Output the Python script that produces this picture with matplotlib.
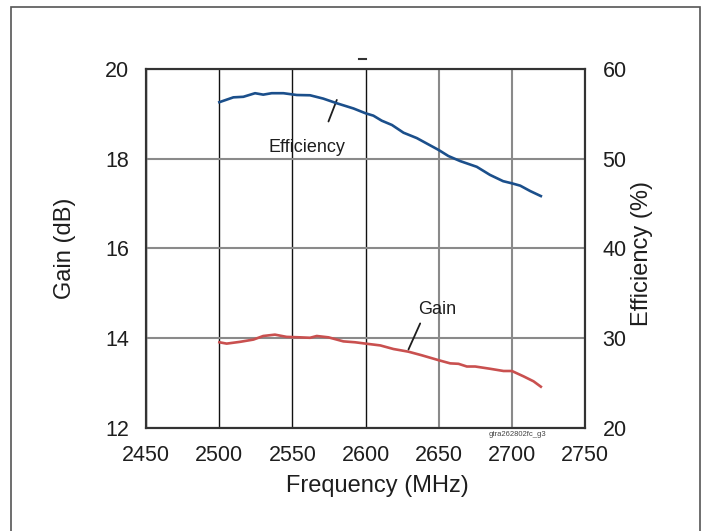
import matplotlib
matplotlib.use('Agg')
import matplotlib.pyplot as plt
from matplotlib.patches import Rectangle
from matplotlib.lines import Line2D

####################################
# Data
####################################

eff_freq = [2500, 2509.6, 2516.4, 2524.4, 2530, 2535.8, 2543.8, 2552.9, 2562, 2571,
            2580.3, 2591.7, 2600, 2605.3, 2611, 2618, 2625.9, 2635, 2644, 2650,
            2656.6, 2664.6, 2676, 2685, 2694, 2700, 2705.7, 2712.5, 2719.8]
eff_pct = [56.3, 56.84, 56.9, 57.3, 57.14, 57.3, 57.3, 57.1, 57.07, 56.7,
           56.18, 55.6, 55.06, 54.8, 54.24, 53.76, 52.9, 52.3, 51.5, 50.97,
           50.3, 49.74, 49.1, 48.2, 47.5, 47.26, 47.0, 46.4, 45.84]

gain_freq = [2500, 2505, 2514.2, 2523.3, 2530, 2538, 2546, 2555.2, 2562, 2566.6,
             2574.6, 2584.8, 2592.8, 2600, 2610, 2619, 2629.3, 2638.4, 2650, 2657.8,
             2663.5, 2669.2, 2674.9, 2685, 2694.3, 2700, 2708, 2714.8, 2719.8]
gain_db = [13.91, 13.88, 13.92, 13.97, 14.05, 14.08, 14.03, 14.02, 14.01, 14.05,
           14.02, 13.93, 13.91, 13.88, 13.84, 13.76, 13.70, 13.62, 13.51, 13.44,
           13.43, 13.37, 13.37, 13.32, 13.27, 13.27, 13.15, 13.04, 12.92]

x_ticks = [2450, 2500, 2550, 2600, 2650, 2700, 2750]
gain_ticks = [12, 14, 16, 18, 20]
eff_ticks = [20, 30, 40, 50, 60]

####################################
# Style
####################################

BLUE = '#1b4f8b'
RED = '#c9504f'
TXT = '#1e1e1e'
GRID_DARK = '#111111'
GRID_GREY = '#8a8a8a'
SPINE = '#333333'

plt.rcParams['font.family'] = ['Liberation Sans', 'DejaVu Sans']
plt.rcParams['text.color'] = TXT

fig = plt.figure(figsize=(7.04, 5.31), dpi=100)
ax = fig.add_axes([0.2077, 0.194, 0.6233, 0.6761])
ax2 = ax.twinx()

# outer frame
fig.add_artist(Rectangle((11 / 704, -0.02), 689 / 704, 1.02 - 7 / 531, transform=fig.transFigure,
                         fill=False, edgecolor='#555555', lw=1.2))
# small stray dash above plot
fig.add_artist(Line2D([359 / 704, 366 / 704], [1 - 59 / 531, 1 - 59 / 531], transform=fig.transFigure,
                      color='#333333', lw=1.5))

ax.set_xlim(2450, 2750)
ax.set_ylim(12, 20)
ax2.set_ylim(20, 60)
ax.set_xticks(x_ticks)
ax.set_yticks(gain_ticks)
ax2.set_yticks(eff_ticks)

ax.grid(True)
for loc, tick in zip(ax.get_xticks(), ax.xaxis.get_major_ticks()):
    if loc <= 2600:
        tick.gridline.set_color(GRID_DARK)
        tick.gridline.set_linewidth(1.0)
    else:
        tick.gridline.set_color(GRID_GREY)
        tick.gridline.set_linewidth(1.5)
for tick in ax.yaxis.get_major_ticks():
    tick.gridline.set_color(GRID_GREY)
    tick.gridline.set_linewidth(1.5)

ax.tick_params(length=0, pad=12.5, labelsize=15.5, labelcolor=TXT)
ax2.tick_params(length=0, pad=12.5, labelsize=15.5, labelcolor=TXT)

for a in (ax, ax2):
    for s in a.spines.values():
        s.set_color(SPINE)
        s.set_linewidth(1.5)

ax.plot(gain_freq, gain_db, color=RED, lw=1.9, zorder=3)
ax2.plot(eff_freq, eff_pct, color=BLUE, lw=1.9, zorder=3)

ax.set_xlabel('Frequency (MHz)', fontsize=17, color=TXT, va='center')
ax.xaxis.set_label_coords(0.527, -0.1616)
ax.set_ylabel('Gain (dB)', fontsize=17, color=TXT, va='center')
ax.yaxis.set_label_coords(-0.185, 0.5)
ax2.set_ylabel('Efficiency (%)', fontsize=17, color=TXT, va='center', rotation=90)
ax2.yaxis.set_label_coords(1.130, 0.485)

# curve labels with leader lines (gain axis units)
ax.text(2560, 18.25, 'Efficiency', fontsize=13, ha='center', va='center', color=TXT)
ax.annotate('', xy=(2580.3, 19.31), xytext=(2574.6, 18.83),
            arrowprops=dict(arrowstyle='-', lw=1.3, color=TXT, shrinkA=0, shrinkB=0))
ax.text(2648.7, 14.63, 'Gain', fontsize=13, ha='center', va='center', color=TXT)
ax.annotate('', xy=(2629.3, 13.75), xytext=(2637.3, 14.33),
            arrowprops=dict(arrowstyle='-', lw=1.3, color=TXT, shrinkA=0, shrinkB=0))

ax.text(2704, 11.85, 'gtra262802fc_g3', fontsize=5.5, ha='center', va='center', color='#444444')

fig.savefig('out.png', dpi=100)
